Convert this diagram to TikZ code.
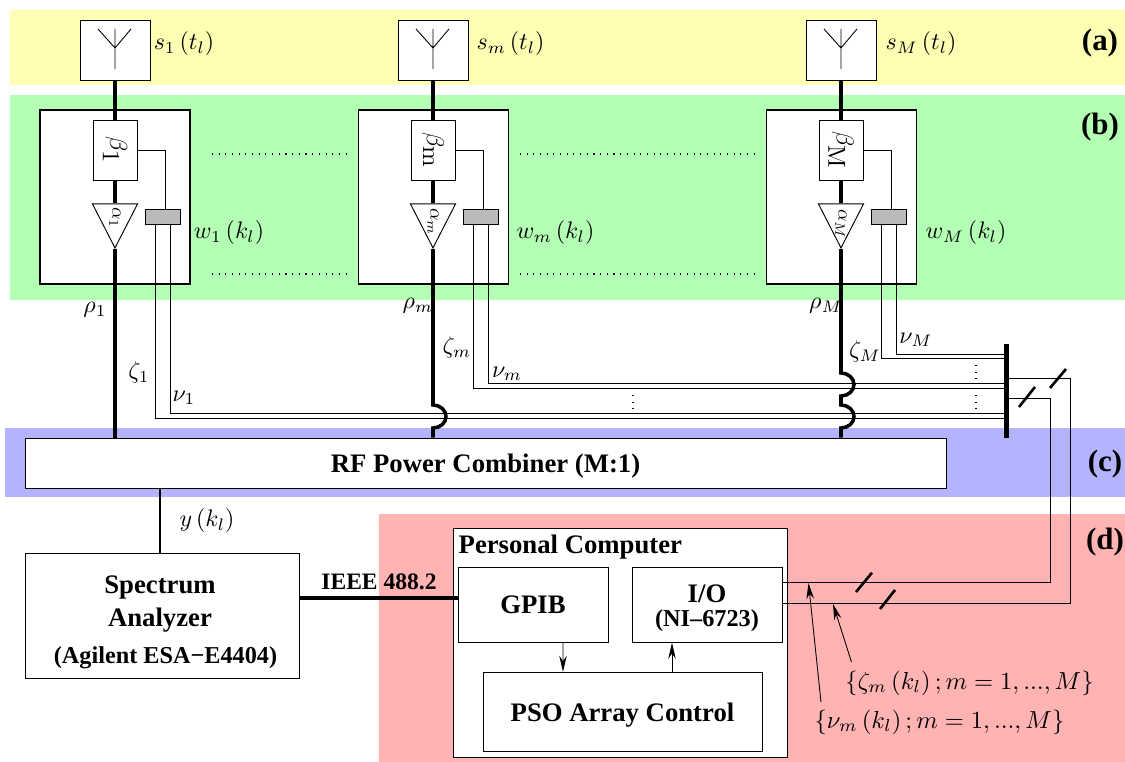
\documentclass[tikz,border=0pt]{standalone}
\usepackage[no-math]{fontspec}
\setmainfont{Liberation Serif}
\usetikzlibrary{shapes.geometric,arrows.meta}
\definecolor{banda}{HTML}{FFFFB3}
\definecolor{bandb}{HTML}{B3FFB3}
\definecolor{bandc}{HTML}{B3B3FF}
\definecolor{bandd}{HTML}{FFB3B3}
\tikzset{
  box/.style={draw, fill=white, line width=.27pt, inner sep=0pt, align=center},
  antbox/.style={box, minimum width=.7cm, minimum height=.6cm},
  elembox/.style={draw, fill=white, line width=.55pt, minimum width=1.5cm, minimum height=1.74cm},
  betabox/.style={box, minimum width=.44cm, minimum height=.6cm},
  ampbox/.style={draw, fill=white, line width=.27pt, isosceles triangle, isosceles triangle apex angle=54, isosceles triangle stretches, shape border rotate=-90, inner sep=0pt, minimum width=.45cm, minimum height=.44cm, anchor=apex},
  wghtbox/.style={draw, fill=black!27, line width=.27pt, minimum width=.35cm, minimum height=.15cm, inner sep=0pt},
  bold/.style={font=\fontsize{7.6}{9}\selectfont\bfseries, inner sep=0pt},
  small/.style={font=\fontsize{6.9}{8}\selectfont\bfseries, inner sep=0pt},
  tag/.style={font=\fontsize{8.8}{9}\selectfont\bfseries, inner sep=0pt},
  lab/.style={scale=.68, transform shape, inner sep=0pt},
  setlab/.style={scale=.7, transform shape, inner sep=0pt},
  betalab/.style={scale=.7, transform shape, rotate=-90, inner sep=0pt},
  amplab/.style={scale=.55, transform shape, rotate=-90, inner sep=0pt},
  wire/.style={line width=.25pt},
  feed/.style={line width=1pt},
  tick/.style={line width=.75pt},
  dots/.style={line width=.3pt, dash pattern=on .3pt off 1.6pt},
  sig/.style={line width=.25pt, -{Stealth[length=.16cm,width=.075cm]}}
}
\begin{document}
\begin{tikzpicture}
\useasboundingbox (0,0) rectangle (11.25,-7.62);
\fill[banda] (.1,-.1) rectangle (11.25,-.85);
\fill[bandb] (.1,-.95) rectangle (11.25,-3);
\fill[bandc] (.05,-4.28) rectangle (11.25,-4.97);
\fill[bandd] (3.79,-5.14) rectangle (11.25,-7.62);
\node[tag] (taga) at (11,-.43) {(a)};
\node[tag] (tagb) at (11,-1.27) {(b)};
\node[tag] (tagc) at (11.05,-4.64) {(c)};
\node[tag] (tagd) at (11.05,-5.42) {(d)};
\node[elembox] (elem1) at (1.15,-1.97) {};
\node[elembox] (elem2) at (4.335,-1.97) {};
\node[elembox] (elem3) at (8.415,-1.97) {};
\node[antbox] (ant1) at (1.15,-.5) {};
\node[antbox] (ant2) at (4.33,-.5) {};
\node[antbox] (ant3) at (8.41,-.5) {};
\draw[wire] (1.15,-.69) -- (1.15,-.29) (.98,-.29) -- (1.15,-.48) -- (1.31,-.29);
\draw[wire] (4.33,-.69) -- (4.33,-.29) (4.16,-.29) -- (4.33,-.48) -- (4.49,-.29);
\draw[wire] (8.41,-.69) -- (8.41,-.29) (8.24,-.29) -- (8.41,-.48) -- (8.57,-.29);
\node[lab] (s1) at (1.84,-.44) {$s_1\left(t_l\right)$};
\node[lab] (s2) at (5.105,-.44) {$s_m\left(t_l\right)$};
\node[lab] (s3) at (9.21,-.44) {$s_M\left(t_l\right)$};
\node[betabox] (beta1) at (1.15,-1.5) {};
\node[betabox] (beta2) at (4.33,-1.5) {};
\node[betabox] (beta3) at (8.41,-1.5) {};
\node[betalab] (betat1) at (1.15,-1.5) {$\beta_{\textstyle 1}$};
\node[betalab] (betat2) at (4.33,-1.5) {$\beta_{\textstyle\mathrm{m}}$};
\node[betalab] (betat3) at (8.41,-1.5) {$\beta_{\textstyle\mathrm{M}}$};
\node[ampbox] (amp1) at (1.15,-2.49) {};
\node[ampbox] (amp2) at (4.33,-2.49) {};
\node[ampbox] (amp3) at (8.41,-2.49) {};
\node[amplab] (ampt1) at (1.15,-2.18) {$\alpha_1$};
\node[amplab] (ampt2) at (4.33,-2.22) {$\alpha_m$};
\node[amplab] (ampt3) at (8.41,-2.24) {$\alpha_M$};
\node[wghtbox] (wght1) at (1.625,-2.165) {};
\node[wghtbox] (wght2) at (4.805,-2.165) {};
\node[wghtbox] (wght3) at (8.89,-2.165) {};
\node[lab] (w1) at (2.29,-2.33) {$w_1\left(k_l\right)$};
\node[lab] (w2) at (5.555,-2.33) {$w_m\left(k_l\right)$};
\node[lab] (w3) at (9.66,-2.33) {$w_M\left(k_l\right)$};
\node[box, minimum width=9.21cm, minimum height=.5cm, bold, text depth=0pt] (comb) at (4.855,-4.63) {RF Power Combiner (M:1)};
\node[fill=black, minimum width=.05cm, minimum height=.94cm, inner sep=0pt] (bar) at (10.06,-3.91) {};
\draw[feed] (ant1) -- (beta1);
\draw[feed] (ant2) -- (beta2);
\draw[feed] (ant3) -- (beta3);
\draw[feed] (beta1) -- (amp1.north);
\draw[feed] (beta2) -- (amp2.north);
\draw[feed] (beta3) -- (amp3.north);
\draw[wire] (beta1.east) -| ([xshift=.025cm]wght1.north);
\draw[wire] (beta2.east) -| ([xshift=.025cm]wght2.north);
\draw[wire] (beta3.east) -| ([xshift=.025cm]wght3.north);
\coordinate (zetaend1) at (10.04,-4.187);
\coordinate (nuend1) at (10.04,-4.13);
\coordinate (zetaend2) at (10.04,-3.887);
\coordinate (nuend2) at (10.04,-3.833);
\coordinate (zetaend3) at (10.04,-3.587);
\coordinate (nuend3) at (10.04,-3.54);
\draw[wire] ([xshift=-.075cm]wght1.south) |- (zetaend1);
\draw[wire] ([xshift=.075cm]wght1.south) |- (nuend1);
\draw[wire] ([xshift=-.075cm]wght2.south) |- (zetaend2);
\draw[wire] ([xshift=.075cm]wght2.south) |- (nuend2);
\draw[wire] ([xshift=-.075cm]wght3.south) |- (zetaend3);
\draw[wire] ([xshift=.075cm]wght3.south) |- (nuend3);
\draw[feed] (amp1.apex) -- (amp1.apex |- comb.north);
\draw[feed] (amp2.apex) -- (4.33,-4.05) arc[start angle=90, end angle=-90, x radius=.13, y radius=.115] -- (amp2.apex |- comb.north);
\draw[feed] (amp3.apex) -- (8.41,-3.73) arc[start angle=90, end angle=-90, x radius=.13, y radius=.115] -- (8.41,-4.05) arc[start angle=90, end angle=-90, x radius=.13, y radius=.115] -- (amp3.apex |- comb.north);
\draw[dots] (2.12,-1.54) -- (3.47,-1.54);
\draw[dots] (2.12,-2.74) -- (3.47,-2.74);
\draw[dots] (5.2,-1.54) -- (7.55,-1.54);
\draw[dots] (5.2,-2.74) -- (7.55,-2.74);
\draw[dots] (6.33,-3.95) -- (6.33,-4.11);
\draw[dots] (9.76,-3.65) -- (9.76,-3.81);
\draw[dots] (9.76,-3.95) -- (9.76,-4.11);
\node[lab] (rho1) at (.95,-3.1) {$\rho_1$};
\node[lab] (rho2) at (4.18,-3.06) {$\rho_m$};
\node[lab] (rho3) at (8.26,-3.06) {$\rho_M$};
\node[lab] (zeta1) at (1.39,-3.73) {$\zeta_1$};
\node[lab] (nu1) at (1.84,-3.98) {$\nu_1$};
\node[lab] (zeta2) at (4.57,-3.48) {$\zeta_m$};
\node[lab] (nu2) at (5.07,-3.74) {$\nu_m$};
\node[lab] (zeta3) at (8.65,-3.52) {$\zeta_M$};
\node[lab] (nu3) at (9.16,-3.4) {$\nu_M$};
\node[box, minimum width=2.74cm, minimum height=1.25cm] (spec) at (1.62,-6.155) {};
\node[bold] (spect1) at (1.6,-5.87) {Spectrum};
\node[bold] (spect2) at (1.6,-6.2) {Analyzer};
\node[small] (spect3) at (1.655,-6.58) {(Agilent ESA−E4404)};
\draw[wire, line width=.7pt] (1.6,-4.88) -- (1.6,-5.53);
\node[lab] (y) at (2.07,-5.21) {$y\left(k_l\right)$};
\node[box, minimum width=3.34cm, minimum height=2.29cm] (pc) at (6.2,-6.425) {};
\node[bold, anchor=west] (pct) at (4.58,-5.47) {Personal Computer};
\node[box, minimum width=1.5cm, minimum height=.745cm, bold] (gpib) at (5.33,-6.05) {GPIB};
\node[box, minimum width=1.5cm, minimum height=.745cm] (io) at (7.07,-6.05) {};
\node[bold] (iot1) at (7.07,-5.94) {I/O};
\node[small] (iot2) at (7.07,-6.21) {(NI–6723)};
\node[box, minimum width=2.79cm, minimum height=.795cm, bold, text depth=0pt] (pso) at (6.225,-7.12) {PSO Array Control};
\draw[feed, line width=.9pt] ([yshift=.175cm]spec.east) -- ([yshift=.07cm]gpib.west);
\node[bold, font=\fontsize{6.7}{8}\selectfont\bfseries] (ieee) at (3.79,-5.82) {IEEE 488.2};
\draw[sig] ([xshift=.3cm]gpib.south) -- ([xshift=-.595cm]pso.north);
\draw[sig] ([xshift=.495cm]pso.north) -- ([xshift=-.35cm]io.south);
\coordinate (nuout) at (10.08,-3.787);
\coordinate (zetaout) at (10.08,-3.987);
\coordinate (nuin) at (7.82,-6.03);
\coordinate (zetain) at (7.82,-5.82);
\draw[wire] (nuout) -- (10.705,-3.787) -- (10.705,-6.03) -- (nuin);
\draw[wire] (zetaout) -- (10.505,-3.987) -- (10.505,-5.82) -- (zetain);
\draw[tick] (10.5,-3.88) -- (10.66,-3.69);
\draw[tick] (10.19,-4.07) -- (10.35,-3.87);
\draw[tick] (8.56,-5.92) -- (8.72,-5.727);
\draw[tick] (8.8,-6.09) -- (8.95,-5.9);
\node[setlab] (zetalab) at (9.695,-6.83) {$\left\{\zeta_m\left(k_l\right);m=1,...,M\right\}$};
\node[setlab] (nulab) at (9.395,-7.22) {$\left\{\nu_m\left(k_l\right);m=1,...,M\right\}$};
\coordinate (nutail) at (8.21,-7.02);
\coordinate (zetatail) at (8.515,-6.62);
\draw[sig] (nutail) -- (8.085,-5.83);
\draw[sig] (zetatail) -- (8.33,-6.04);
\end{tikzpicture}
\end{document}
